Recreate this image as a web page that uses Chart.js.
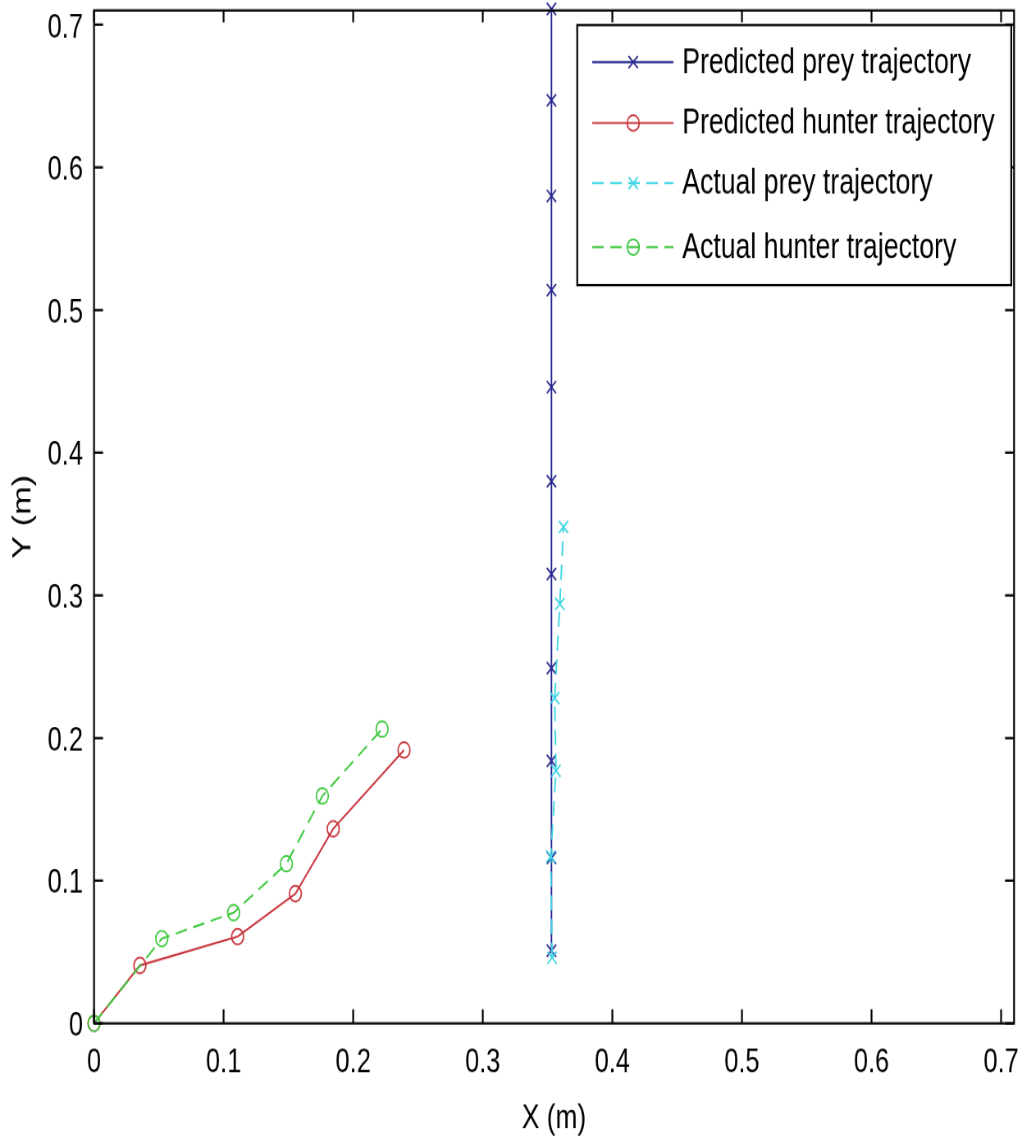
<!DOCTYPE html>
<html>
<head>
<meta charset="utf-8">
<script src="https://cdn.jsdelivr.net/npm/chart.js@4/dist/chart.umd.min.js"></script>
<style>
html,body{margin:0;padding:0;background:#fff;overflow:hidden}
canvas{display:block}
</style>
</head>
<body>
<canvas id="c" width="1246" height="1061" style="width:1022px;height:1141px"></canvas>
<script>
// ---- data ----
const seriesNames = ['Predicted prey trajectory', 'Predicted hunter trajectory', 'Actual prey trajectory', 'Actual hunter trajectory'];
const predPreyX = [0.353, 0.353, 0.353, 0.353, 0.353, 0.353, 0.353, 0.353, 0.353, 0.353, 0.353];
const predPreyY = [0.051, 0.116, 0.184, 0.249, 0.315, 0.380, 0.446, 0.514, 0.580, 0.647, 0.711];
const predHunterX = [0, 0.0354, 0.1108, 0.1554, 0.1846, 0.2392];
const predHunterY = [0, 0.0406, 0.0608, 0.0909, 0.1364, 0.1916];
const actPreyX = [0.3535, 0.3525, 0.3565, 0.3555, 0.3595, 0.3623];
const actPreyY = [0.046, 0.117, 0.177, 0.228, 0.294, 0.348];
const actHunterX = [0, 0.0523, 0.1077, 0.1485, 0.1762, 0.2223];
const actHunterY = [0, 0.0594, 0.0776, 0.1119, 0.1594, 0.2063];
const xTickVals = [0, 0.1, 0.2, 0.3, 0.4, 0.5, 0.6, 0.7];
const xTickLabels = ['0', '0.1', '0.2', '0.3', '0.4', '0.5', '0.6', '0.7'];
const yTickVals = [0, 0.1, 0.2, 0.3, 0.4, 0.5, 0.6, 0.7];
const yTickLabels = ['0', '0.1', '0.2', '0.3', '0.4', '0.5', '0.6', '0.7'];
const axisMax = 0.71;

// ---- styles ----
// canvas buffer is 1246x1061 shown at 1022x1141 (narrow, tall look of the original)
const FAMILY = "'Liberation Sans', Arial, sans-serif";
const pts = (xs, ys) => xs.map((x, i) => ({x: x, y: ys[i]}));

const styles = [
  {color: '#25258e', dash: [], marker: 'crossRot', r: 8, order: 4},
  {color: '#c8323a', dash: [], marker: 'circle', r: 7.3, order: 3},
  {color: '#3ed6e4', dash: [14, 8], marker: 'crossRot', r: 8, order: 2},
  {color: '#3cc83c', dash: [14, 8], marker: 'circle', r: 7.3, order: 1}
];
const allData = [pts(predPreyX, predPreyY), pts(predHunterX, predHunterY), pts(actPreyX, actPreyY), pts(actHunterX, actHunterY)];

const datasets = allData.map((d, i) => ({
  label: seriesNames[i],
  data: d,
  showLine: true,
  borderColor: styles[i].color,
  borderWidth: 1.9,
  borderDash: styles[i].dash,
  pointStyle: styles[i].marker,
  pointRadius: styles[i].r,
  pointBorderWidth: 1.7,
  pointBorderColor: styles[i].color,
  pointBackgroundColor: 'rgba(0,0,0,0)',
  pointHoverRadius: styles[i].r,
  tension: 0,
  clip: false,
  order: styles[i].order
}));

// box + inward ticks
const boxPlugin = {
  id: 'box',
  afterDraw(chart) {
    const {ctx, chartArea: a, scales: {x, y}} = chart;
    ctx.save();
    ctx.strokeStyle = '#000';
    ctx.lineWidth = 2.2;
    ctx.setLineDash([]);
    ctx.beginPath();
    x.ticks.forEach(t => {
      const px = x.getPixelForValue(t.value);
      ctx.moveTo(px, a.bottom); ctx.lineTo(px, a.bottom - 13);
      ctx.moveTo(px, a.top); ctx.lineTo(px, a.top + 11);
    });
    y.ticks.forEach(t => {
      const py = y.getPixelForValue(t.value);
      ctx.moveTo(a.left, py); ctx.lineTo(a.left + 11, py);
      ctx.moveTo(a.right, py); ctx.lineTo(a.right - 11, py);
    });
    ctx.stroke();
    ctx.strokeRect(a.left, a.top, a.right - a.left, a.bottom - a.top);
    ctx.restore();
  }
};

// legend drawn inside the plot
const legendPlugin = {
  id: 'innerLegend',
  afterDraw(chart) {
    const ctx = chart.ctx;
    const bx = 703.7, by = 23.3, bw = 529.2, bh = 241.8;
    ctx.save();
    ctx.fillStyle = '#fff';
    ctx.fillRect(bx, by, bw, bh);
    ctx.strokeStyle = '#000';
    ctx.lineWidth = 2.2;
    ctx.strokeRect(bx, by, bw, bh);
    const rows = [57.7, 114.4, 170.2, 229.8];
    chart.data.datasets.forEach((ds, i) => {
      const yy = rows[i];
      ctx.strokeStyle = ds.borderColor;
      ctx.lineWidth = ds.borderWidth;
      ctx.setLineDash(ds.borderDash);
      ctx.beginPath();
      ctx.moveTo(722, yy); ctx.lineTo(821, yy);
      ctx.stroke();
      ctx.setLineDash([]);
      ctx.lineWidth = ds.pointBorderWidth;
      ctx.fillStyle = 'rgba(0,0,0,0)';
      Chart.helpers.drawPoint(ctx, {pointStyle: ds.pointStyle, radius: ds.pointRadius, rotation: 0, borderWidth: ds.pointBorderWidth}, 772, yy);
      ctx.fillStyle = '#000';
      ctx.font = '32.5px ' + FAMILY;
      ctx.textBaseline = 'middle';
      ctx.textAlign = 'left';
      ctx.fillText(ds.label, 831.7, yy + 1);
    });
    ctx.restore();
  }
};

const zeroPad = s => { s.paddingLeft = 0; s.paddingRight = 0; s.paddingTop = 0; s.paddingBottom = 0; };
const tickFont = {family: FAMILY, size: 31};
const titleFont = {family: FAMILY, size: 32};

new Chart(document.getElementById('c'), {
  type: 'scatter',
  data: {datasets: datasets},
  options: {
    responsive: false,
    animation: false,
    devicePixelRatio: 1,
    layout: {padding: {top: 6.5, right: 5.8, left: 0, bottom: 0}},
    plugins: {legend: {display: false}, tooltip: {enabled: false}},
    scales: {
      x: {
        type: 'linear', min: 0, max: axisMax,
        afterBuildTicks: s => { s.ticks = xTickVals.map(v => ({value: v})); },
        ticks: {callback: (v, i) => xTickLabels[i], font: tickFont, color: '#000', padding: 18.6, maxRotation: 0, autoSkip: false},
        grid: {display: false, drawTicks: false},
        border: {display: false},
        title: {display: true, text: 'X (m)', font: titleFont, color: '#000', padding: {top: 0, bottom: 1.8}},
        afterFit: s => { s.height = 109.4; zeroPad(s); }
      },
      y: {
        type: 'linear', min: 0, max: axisMax,
        afterBuildTicks: s => { s.ticks = yTickVals.map(v => ({value: v})); },
        ticks: {callback: (v, i) => yTickLabels[i], font: tickFont, color: '#000', padding: 13.4, autoSkip: false, labelOffset: 3},
        grid: {display: false, drawTicks: false},
        border: {display: false},
        title: {display: true, text: 'Y (m)', font: titleFont, color: '#000', padding: {top: 8.8, bottom: 0}},
        afterFit: s => { s.width = 114.6; zeroPad(s); }
      }
    }
  },
  plugins: [boxPlugin, legendPlugin]
});
</script>
</body>
</html>
